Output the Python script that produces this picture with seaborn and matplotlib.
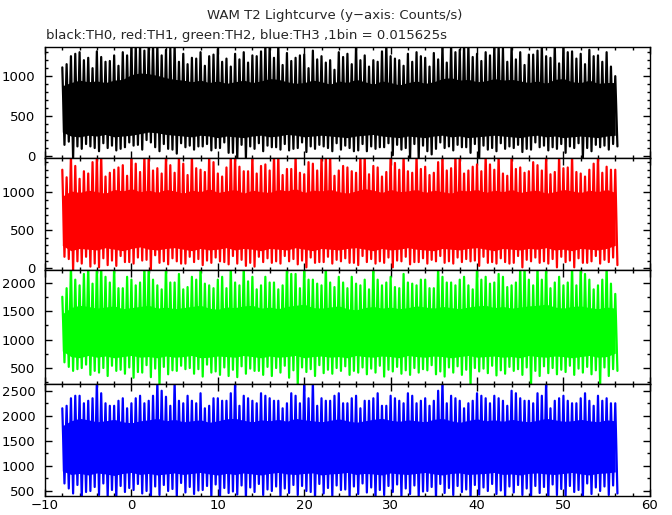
import numpy as np
import pandas as pd
import matplotlib
matplotlib.use("Agg")
import matplotlib.pyplot as plt
import seaborn as sns
from matplotlib.ticker import MultipleLocator

# time of each 1 s column (s) and of the half-second columns between them
t_sec = list(range(-8, 57))
t_half = [x + 0.5 for x in range(-8, 56)]

# TH0 (black): spike tips, dense-band edges
th0_hi = [1110, 1250, 1300, 1230, 1310, 1180, 1260, 1300, 1400, 1400,
          1400, 1400, 1330, 1400, 1280, 1230, 1300, 1250, 1340, 1220,
          1280, 1300, 1260, 1310, 1400, 1400, 1290, 1230, 1270, 1320,
          1250, 1200, 1300, 1280, 1400, 1260, 1200, 1310, 1250, 1200,
          1280, 1300, 1230, 1290, 1400, 1400, 1330, 1400, 1280, 1300,
          1400, 1350, 1400, 1300, 1270, 1320, 1250, 1400, 1400, 1310,
          1280, 1330, 1260, 1300, 1000]
th0_hi2 = [1150, 1280, 1200, 1100, 1240, 1190, 1130, 1260,
           1400, 1320, 1400, 1260, 1350, 1180, 1150, 1220,
           1130, 1270, 1180, 1120, 1210, 1170, 1250, 1400,
           1230, 1140, 1190, 1260, 1100, 1210, 1170, 1080,
           1240, 1150, 1200, 1120, 1180, 1400, 1220, 1130,
           1180, 1250, 1120, 1210, 1170, 1300, 1400, 1240,
           1190, 1260, 1400, 1180, 1210, 1140, 1270, 1400,
           1230, 1160, 1300, 1220, 1150, 1250, 1180, 1120]
th0_up = [880, 920, 950, 930, 940, 920, 950, 960, 1020, 1040,
          1030, 1010, 980, 960, 950, 930, 950, 920, 940, 910,
          930, 950, 920, 940, 970, 960, 930, 910, 920, 950,
          930, 900, 940, 920, 960, 930, 900, 940, 920, 890,
          920, 940, 910, 930, 970, 980, 950, 960, 930, 940,
          970, 950, 960, 940, 920, 940, 910, 960, 970, 930,
          920, 950, 910, 920, 920]
th0_dn = [300, 250, 240, 260, 250, 270, 240, 250, 260, 280,
          300, 290, 270, 260, 250, 240, 260, 250, 230, 250,
          240, 230, 250, 260, 240, 250, 270, 260, 240, 250,
          260, 250, 240, 230, 250, 260, 270, 250, 240, 230,
          250, 240, 230, 250, 260, 240, 250, 230, 240, 250,
          260, 250, 240, 230, 250, 260, 240, 250, 230, 240,
          250, 240, 230, 250, 260]
th0_lo = [140, -40, 90, 120, 60, 100, 70, 110, 130, 80,
          170, 60, 90, 30, 110, 80, 120, 70, 100, 40,
          -40, -30, 90, 60, 110, 80, 70, 100, 50, 90,
          120, 60, 80, 100, 70, 60, 90, 110, 10, 80,
          -40, -30, 60, 90, 100, 70, 110, 40, -30, 80,
          60, 90, 100, 50, 80, 110, 70, 90, 40, 100,
          -40, 60, 110, 80, 120]
th0_lo2 = [180, 120, 150, 100, 160, 130, 90, 170,
           140, 200, 110, 150, 80, 160, 130, 120,
           150, 100, 170, 40, 140, 120, 160, 130,
           110, 150, 90, 170, 120, 140, 100, 160,
           130, 60, 150, 120, 110, 160, 140, 100,
           150, 130, 20, 170, 120, 140, 110, 150,
           130, 100, 160, 120, 140, 90, 170, 130,
           110, 150, 120, 160, 100, 140, 130, 150]

# TH1 (red)
th1_hi = [1300, 1500, 1180, 1250, 1500, 1210, 1300, 1360, 1500, 1270,
          1500, 1320, 1500, 1260, 1380, 1500, 1300, 1500, 1250, 1330,
          1500, 1280, 1500, 1350, 1290, 1500, 1310, 1500, 1240, 1380,
          1500, 1500, 1290, 1330, 1260, 1500, 1350, 1210, 1500, 1300,
          1280, 1500, 1340, 1260, 1500, 1320, 1500, 1290, 1370, 1500,
          1300, 1250, 1500, 1330, 1280, 1360, 1500, 1270, 1320, 1500,
          1250, 1300, 1500, 1340, 1300]
th1_hi2 = [1200, 1350, 1280, 1400, 1500, 1260, 1330, 1220,
           1380, 1500, 1290, 1250, 1360, 1500, 1230, 1320,
           1270, 1400, 1210, 1500, 1340, 1280, 1250, 1370,
           1500, 1230, 1310, 1260, 1400, 1290, 1500, 1220,
           1350, 1280, 1500, 1240, 1330, 1270, 1390, 1500,
           1260, 1310, 1230, 1400, 1290, 1500, 1250, 1340,
           1280, 1370, 1500, 1220, 1310, 1260, 1400, 1290,
           1240, 1500, 1330, 1270, 1210, 1380, 1260, 1300]
th1_up = [950, 1020, 1000, 1030, 1010, 990, 1040, 1020, 1050, 1010,
          1030, 1000, 1040, 1020, 990, 1030, 1010, 1050, 1000, 1020,
          1040, 990, 1030, 1010, 1000, 1040, 1020, 1050, 1000, 1030,
          1020, 1040, 1010, 990, 1020, 1050, 1030, 1000, 1040, 1010,
          1020, 1040, 1000, 1030, 1010, 990, 1030, 1020, 1040, 1000,
          1030, 1010, 1040, 1000, 1020, 1030, 990, 1010, 1040, 1020,
          1000, 1030, 1010, 1040, 1000]
th1_dn = [300, 230, 260, 250, 240, 270, 250, 230, 260, 280,
          250, 240, 260, 270, 250, 230, 260, 240, 250, 270,
          240, 260, 250, 230, 260, 250, 240, 270, 250, 230,
          260, 250, 240, 260, 270, 250, 230, 260, 240, 250,
          270, 250, 240, 230, 260, 250, 240, 260, 270, 250,
          230, 260, 250, 240, 260, 250, 270, 240, 250, 230,
          260, 250, 240, 260, 300]
th1_lo = [150, -40, 60, 20, 10, 40, 30, 80, 60, 100,
          -20, 70, 50, 90, 60, 80, 40, 70, 90, 50,
          60, 30, 20, 80, 70, 60, 90, 50, 10, 70,
          80, 60, 90, 70, 40, 80, 60, 70, 10, 90,
          50, 80, 60, 90, 70, 60, 80, 90, 30, 70,
          60, 80, 70, 10, 90, 70, 60, 10, 80, 10,
          70, 90, 60, 80, 40]
th1_lo2 = [120, 90, 150, 60, 130, 100, 160, 80,
           140, 110, 170, 90, 130, 60, 150, 120,
           100, 140, 80, 160, 110, 70, 150, 130,
           90, 160, 120, 100, 140, 80, 150, 110,
           130, 70, 160, 120, 90, 140, 100, 150,
           80, 130, 110, 160, 90, 140, 120, 100,
           150, 80, 130, 60, 160, 110, 140, 90,
           120, 150, 100, 130, 70, 160, 110, 140]

# TH2 (green)
th2_hi = [1750, 2300, 1950, 2300, 2300, 2100, 2300, 1900, 2050, 2000,
          2300, 1950, 2300, 2000, 1880, 2100, 2300, 1950, 2050, 1900,
          2000, 2300, 2100, 1950, 2000, 1880, 2300, 2150, 2300, 2050,
          1950, 2000, 2100, 1900, 1980, 2050, 2300, 1950, 2100, 1900,
          2000, 1950, 2050, 1900, 2100, 2000, 2050, 1950, 2300, 2100,
          2000, 2100, 1950, 2300, 2050, 2300, 2300, 2000, 1950, 2300,
          2300, 2050, 1950, 2300, 1800]
th2_hi2 = [1900, 2050, 2150, 1980, 2300, 2000, 1900, 2100,
           1950, 2300, 2050, 1880, 2000, 2150, 1920, 2050,
           1980, 1900, 2100, 2300, 1950, 2020, 1880, 2100,
           2000, 1950, 2150, 1900, 2050, 1980, 2300, 1920,
           2000, 2100, 1950, 1880, 2050, 2000, 1920, 2150,
           1980, 2050, 1900, 2300, 2000, 1950, 2100, 1880,
           2050, 1980, 2150, 1920, 2000, 2300, 1950, 2050,
           1900, 2100, 2000, 1950, 2150, 1880, 2050, 1980]
th2_up = [1450, 1560, 1600, 1580, 1550, 1570, 1590, 1540, 1560, 1580,
          1600, 1550, 1570, 1540, 1560, 1580, 1600, 1550, 1530, 1570,
          1560, 1590, 1600, 1550, 1570, 1540, 1580, 1600, 1620, 1560,
          1550, 1570, 1590, 1540, 1520, 1560, 1580, 1550, 1570, 1540,
          1560, 1590, 1570, 1550, 1580, 1560, 1540, 1570, 1590, 1600,
          1560, 1580, 1550, 1570, 1590, 1600, 1620, 1570, 1550, 1580,
          1590, 1560, 1540, 1570, 1550]
th2_dn = [800, 700, 680, 720, 690, 710, 680, 700, 720, 690,
          700, 680, 710, 690, 700, 720, 680, 690, 710, 700,
          690, 720, 700, 680, 710, 690, 700, 720, 680, 700,
          710, 690, 700, 680, 720, 700, 690, 710, 700, 680,
          720, 700, 690, 710, 700, 680, 700, 720, 690, 700,
          710, 690, 700, 680, 720, 700, 690, 710, 700, 680,
          700, 720, 690, 700, 760]
th2_lo = [600, 450, 500, 380, 420, 360, 450, 400, 330, 420,
          340, 200, 390, 450, 480, 400, 350, 420, 380, 360,
          340, 400, 450, 380, 360, 420, 330, 200, 430, 360,
          410, 400, 450, 380, 420, 390, 420, 350, 440, 400,
          380, 420, 460, 390, 350, 420, 380, 200, 440, 410,
          370, 400, 450, 380, 200, 360, 410, 390, 430, 380,
          420, 390, 200, 360, 450]
th2_lo2 = [520, 480, 560, 450, 500, 540, 470, 510,
           430, 550, 490, 520, 460, 540, 500, 480,
           560, 440, 510, 470, 530, 490, 450, 520,
           500, 540, 460, 510, 480, 550, 470, 500,
           530, 450, 510, 490, 540, 470, 520, 460,
           500, 480, 550, 440, 510, 530, 470, 500,
           490, 540, 460, 520, 480, 510, 450, 530,
           500, 470, 540, 490, 520, 460, 510, 480]

# TH3 (blue)
th3_hi = [2150, 2350, 2400, 2300, 2700, 2250, 2200, 2350, 2250, 2400,
          2300, 2700, 2380, 2700, 2250, 2300, 2450, 2200, 2350, 2300,
          2700, 2400, 2300, 2450, 2350, 2300, 2250, 2400, 2700, 2700,
          2350, 2300, 2450, 2250, 2400, 2300, 2350, 2200, 2400, 2300,
          2450, 2250, 2350, 2300, 2700, 2400, 2300, 2250, 2450, 2350,
          2400, 2300, 2500, 2350, 2300, 2450, 2700, 2300, 2400, 2250,
          2350, 2300, 2400, 2350, 2250]
th3_hi2 = [2200, 2400, 2250, 2350, 2450, 2200, 2300, 2150,
           2350, 2250, 2400, 2500, 2200, 2300, 2400, 2250,
           2150, 2350, 2300, 2450, 2200, 2350, 2250, 2400,
           2300, 2150, 2450, 2250, 2350, 2200, 2300, 2400,
           2250, 2350, 2150, 2300, 2450, 2200, 2350, 2250,
           2400, 2300, 2200, 2500, 2250, 2350, 2150, 2300,
           2400, 2250, 2350, 2200, 2450, 2300, 2250, 2400,
           2150, 2350, 2300, 2250, 2450, 2200, 2300, 2250]
th3_up = [1800, 1900, 1950, 1920, 1880, 1900, 1930, 1880, 1860, 1900,
          1920, 1950, 1900, 1930, 1880, 1900, 1920, 1870, 1900, 1940,
          1950, 1910, 1880, 1920, 1900, 1930, 1890, 1950, 1920, 1900,
          1880, 1910, 1940, 1900, 1870, 1900, 1930, 1950, 1910, 1890,
          1920, 1900, 1880, 1930, 1950, 1900, 1870, 1910, 1940, 1900,
          1920, 1890, 1930, 1900, 1880, 1910, 1950, 1920, 1890, 1900,
          1930, 1900, 1880, 1920, 1900]
th3_dn = [900, 830, 850, 820, 860, 840, 810, 850, 870, 830,
          850, 820, 840, 860, 830, 850, 870, 840, 820, 850,
          830, 860, 840, 820, 850, 870, 840, 830, 850, 860,
          820, 840, 850, 870, 830, 850, 840, 820, 860, 840,
          830, 850, 870, 840, 820, 850, 860, 830, 840, 850,
          870, 830, 840, 820, 850, 860, 840, 830, 850, 870,
          840, 820, 850, 860, 880]
th3_lo = [650, 450, 350, 500, 420, 380, 350, 480, 520, 450,
          350, 420, 500, 380, 470, 440, 520, 380, 350, 460,
          430, 350, 480, 420, 500, 380, 460, 420, 500, 350,
          450, 400, 520, 380, 440, 470, 350, 420, 480, 400,
          440, 380, 500, 350, 460, 420, 480, 350, 430, 500,
          440, 380, 470, 420, 350, 460, 350, 420, 400, 480,
          350, 440, 500, 420, 450]
th3_lo2 = [550, 620, 480, 580, 650, 520, 600, 560,
           640, 500, 590, 620, 540, 660, 580, 510,
           600, 630, 560, 490, 610, 570, 640, 530,
           590, 550, 620, 600, 480, 640, 560, 610,
           530, 590, 650, 570, 520, 600, 630, 550,
           610, 490, 580, 640, 560, 600, 530, 620,
           570, 640, 510, 590, 620, 550, 600, 580,
           630, 540, 600, 520, 650, 570, 590, 610]

channels = [
    ("black", th0_hi, th0_hi2, th0_up, th0_dn, th0_lo, th0_lo2, (-25, 1365), 100),
    ("red", th1_hi, th1_hi2, th1_up, th1_dn, th1_lo, th1_lo2, (-25, 1455), 100),
    ("#00ff00", th2_hi, th2_hi2, th2_up, th2_dn, th2_lo, th2_lo2, (220, 2220), 250),
    ("blue", th3_hi, th3_hi2, th3_up, th3_dn, th3_lo, th3_lo2, (400, 2635), 250),
]

sns.set_style("ticks")
plt.rcParams["font.family"] = ["DejaVu Sans"]
plt.rcParams["axes.linewidth"] = 1.0

fig = plt.figure(figsize=(6.72, 5.15), dpi=100)
# panel rows in figure coords (bottom, height)
rows = [(0.6932, 0.2155), (0.4757, 0.2175), (0.2544, 0.2214), (0.0369, 0.2175)]

for i, (col, hi, hi2, up, dn, lo, lo2, ylim, minor) in enumerate(channels):
    ax = fig.add_axes([0.067, rows[i][0], 0.900, rows[i][1]])
    ax.fill_between(t_sec, dn, up, color=col, linewidth=0)
    # light curve: tips and dips of each column joined in time order
    lc = pd.DataFrame({
        "time": t_sec + [x + 0.25 for x in t_sec] + t_half + [x + 0.25 for x in t_half],
        "rate": hi + lo + hi2 + lo2,
    }).sort_values("time")
    sns.lineplot(data=lc, x="time", y="rate", estimator=None, sort=False,
                 color=col, linewidth=1.6, ax=ax)
    ax.set_xlabel("")
    ax.set_ylabel("")
    ax.set_xlim(-10, 60)
    ax.set_ylim(*ylim)
    ax.xaxis.set_major_locator(MultipleLocator(10))
    ax.xaxis.set_minor_locator(MultipleLocator(2))
    ax.yaxis.set_major_locator(MultipleLocator(500))
    ax.yaxis.set_minor_locator(MultipleLocator(minor))
    ax.tick_params(which="both", direction="in", top=True, right=True,
                   colors="black", labelsize=9.5, width=1.0)
    ax.tick_params(which="major", length=5)
    ax.tick_params(which="minor", length=2.5)
    ax.tick_params(axis="y", which="major", pad=7)
    ax.tick_params(axis="x", which="major", pad=2.5)
    for s in ax.spines.values():
        s.set_color("black")
    if i < 3:
        ax.tick_params(labelbottom=False)

fig.text(0.498, 0.969, "WAM T2 Lightcurve (y\u2212axis: Counts/s)",
         ha="center", va="center", fontsize=9.5)
fig.text(0.068, 0.932,
         "black:TH0, red:TH1, green:TH2, blue:TH3 ,1bin = 0.015625s",
         ha="left", va="center", fontsize=9.5)

fig.savefig("out.png", dpi=100)
